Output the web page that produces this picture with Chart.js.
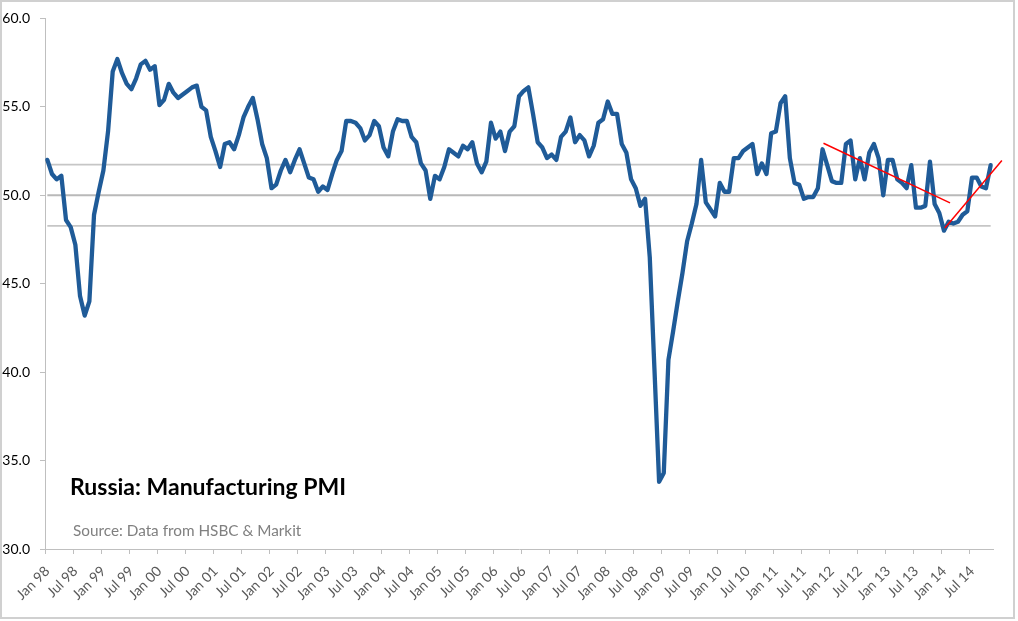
<!DOCTYPE html>
<html>
<head>
<meta charset="utf-8">
<script src="https://cdn.jsdelivr.net/npm/chart.js@4.4.1/dist/chart.umd.min.js"></script>
<style>
  html, body { margin: 0; padding: 0; background: #ffffff; }
  #wrap { position: relative; width: 1018px; height: 621px; }
</style>
</head>
<body>
<div id="wrap"><canvas id="c"></canvas></div>
<script>
// ---- Data ----
const monthNames = ['Jan','Feb','Mar','Apr','May','Jun','Jul','Aug','Sep','Oct','Nov','Dec'];
const startYear = 1998;
const monthCount = 203; // Jan 98 .. Nov 14
const categories = [];
for (let k = 0; k < monthCount; k++) {
  const yy = (startYear + Math.floor(k / 12)) % 100;
  categories.push(monthNames[k % 12] + ' ' + String(yy).padStart(2, '0'));
}

const pmi = [
  // 1998
  52.0, 51.2, 50.9, 51.1, 48.6, 48.2, 47.2, 44.3, 43.2, 44.0, 48.9, 50.2,
  // 1999
  51.4, 53.6, 57.0, 57.7, 56.9, 56.3, 56.0, 56.6, 57.4, 57.6, 57.1, 57.3,
  // 2000
  55.1, 55.4, 56.3, 55.8, 55.5, 55.7, 55.9, 56.1, 56.2, 55.0, 54.8, 53.3,
  // 2001
  52.5, 51.6, 52.9, 53.0, 52.6, 53.4, 54.4, 55.0, 55.5, 54.3, 52.9, 52.1,
  // 2002
  50.4, 50.6, 51.4, 52.0, 51.3, 52.0, 52.6, 51.8, 51.0, 50.9, 50.2, 50.5,
  // 2003
  50.3, 51.2, 52.0, 52.5, 54.2, 54.2, 54.1, 53.8, 53.1, 53.4, 54.2, 53.9,
  // 2004
  52.7, 52.2, 53.6, 54.3, 54.2, 54.2, 53.3, 53.0, 51.8, 51.4, 49.8, 51.1,
  // 2005
  50.9, 51.6, 52.6, 52.4, 52.2, 52.8, 52.6, 53.0, 51.8, 51.3, 51.9, 54.1,
  // 2006
  53.2, 53.6, 52.5, 53.6, 53.9, 55.6, 55.9, 56.1, 54.6, 53.0, 52.7, 52.1,
  // 2007
  52.3, 52.0, 53.3, 53.6, 54.4, 53.0, 53.4, 53.1, 52.2, 52.8, 54.1, 54.3,
  // 2008
  55.3, 54.6, 54.6, 52.9, 52.4, 50.9, 50.4, 49.4, 49.8, 46.5, 40.2, 33.8,
  // 2009
  34.3, 40.7, 42.3, 44.0, 45.6, 47.4, 48.4, 49.5, 52.0, 49.6, 49.2, 48.8,
  // 2010
  50.7, 50.2, 50.2, 52.1, 52.1, 52.5, 52.7, 52.9, 51.2, 51.8, 51.2, 53.5,
  // 2011
  53.6, 55.2, 55.6, 52.1, 50.7, 50.6, 49.8, 49.9, 49.9, 50.4, 52.6, 51.7,
  // 2012
  50.8, 50.7, 50.7, 52.9, 53.1, 50.9, 52.1, 50.9, 52.4, 52.9, 52.1, 50.0,
  // 2013
  52.0, 52.0, 50.9, 50.7, 50.4, 51.7, 49.3, 49.3, 49.4, 51.9, 49.5, 49.0,
  // 2014
  48.0, 48.5, 48.4, 48.5, 48.9, 49.1, 51.0, 51.0, 50.5, 50.4, 51.7
];

// reference levels (horizontal lines)
const refUpper = 51.73;
const refMid = 50.0;
const refLower = 48.27;

// red trend lines: [monthIndex, value]
const trendDown = [[166.2, 52.94], [193.3, 49.57]];
const trendUp = [[192.2, 48.15], [204.4, 51.96]];

const yTicks = [30, 35, 40, 45, 50, 55, 60];
const labelEvery = 6;

const chartTitle = 'Russia: Manufacturing PMI';
const chartSource = 'Source: Data from HSBC & Markit';

// ---- Chart ----
const firstIdx = 0, lastIdx = monthCount - 1;
const hline = v => [{x: firstIdx, y: v}, {x: lastIdx, y: v}];
const pts = arr => arr.map(p => ({x: p[0], y: p[1]}));

const textPlugin = {
  id: 'texts',
  afterDraw(chart) {
    const ctx = chart.ctx;
    ctx.save();
    ctx.strokeStyle = '#d0d0d0';
    ctx.lineWidth = 2;
    ctx.strokeRect(1, 1, 1013, 617);
    ctx.fillStyle = '#000000';
    ctx.font = 'bold 23px Lato';
    ctx.textBaseline = 'alphabetic';
    ctx.fillText(chartTitle, 70, 495);
    ctx.fillStyle = '#808080';
    ctx.font = '15.3px Lato';
    ctx.fillText(chartSource, 73, 536);
    ctx.restore();
  }
};

new Chart(document.getElementById('c'), {
  type: 'line',
  data: {
    labels: categories,
    datasets: [
      { data: pts(trendDown), xAxisID: 'x2', borderColor: '#ff0000', borderWidth: 1.5, pointRadius: 0, clip: false, order: 0 },
      { data: pts(trendUp), xAxisID: 'x2', borderColor: '#ff0000', borderWidth: 1.5, pointRadius: 0, clip: false, order: 0 },
      { data: pmi, xAxisID: 'x', borderColor: '#1f5b98', borderWidth: 4.3, pointRadius: 0, tension: 0,
        borderJoinStyle: 'round', borderCapStyle: 'round', order: 1 },
      { data: hline(refUpper), xAxisID: 'x2', borderColor: '#c6c6c6', borderWidth: 1.6, pointRadius: 0, order: 2 },
      { data: hline(refMid), xAxisID: 'x2', borderColor: '#b9b9b9', borderWidth: 2.2, pointRadius: 0, order: 2 },
      { data: hline(refLower), xAxisID: 'x2', borderColor: '#c6c6c6', borderWidth: 1.6, pointRadius: 0, order: 2 }
    ]
  },
  options: {
    responsive: true,
    maintainAspectRatio: false,
    animation: false,
    events: [],
    layout: { padding: { left: 0, right: 25, top: 13, bottom: 0 } },
    plugins: { legend: { display: false }, tooltip: { enabled: false }, title: { display: false } },
    scales: {
      x: {
        type: 'category',
        offset: true,
        grid: {
          offset: true,
          drawOnChartArea: false,
          drawTicks: true,
          tickLength: 5,
          lineWidth: 1,
          color: c => (c.index % labelEvery === 0 && c.index < monthCount) ? '#bfbfbf' : 'rgba(0,0,0,0)'
        },
        border: { display: true, color: '#bfbfbf', width: 1 },
        ticks: {
          autoSkip: false,
          minRotation: 45,
          maxRotation: 45,
          padding: 9,
          color: '#595959',
          font: { family: 'Lato', size: 14 },
          callback: (v, i) => (i % labelEvery === 0 ? categories[i] : '')
        },
        afterFit: s => { s.height = 72; }
      },
      x2: {
        type: 'linear',
        display: false,
        min: -0.5,
        max: monthCount - 0.5
      },
      y: {
        min: 30,
        max: 60,
        afterBuildTicks: s => { s.ticks = yTicks.map(v => ({value: v})); },
        grid: { drawOnChartArea: false, drawTicks: true, tickLength: 5, color: '#bfbfbf' },
        border: { display: true, color: '#bfbfbf', width: 1 },
        ticks: {
          padding: 10,
          color: '#000000',
          font: { family: 'Lato', size: 14 },
          callback: v => Number(v).toFixed(1)
        },
        afterFit: s => { s.width = 45; }
      }
    }
  },
  plugins: [textPlugin]
});
</script>
</body>
</html>
